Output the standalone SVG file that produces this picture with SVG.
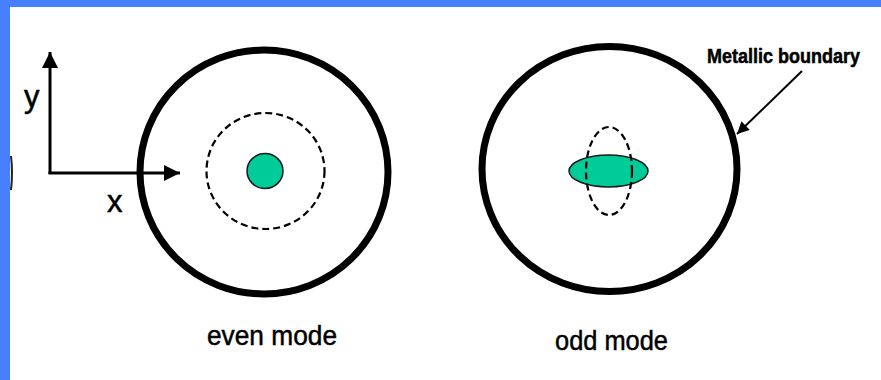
<svg xmlns="http://www.w3.org/2000/svg" width="881" height="380" viewBox="0 0 881 380">
<defs>
<style>
.boundary{fill:none;stroke:#000;stroke-width:7}
.dash{fill:none;stroke:#000;stroke-width:2.2;stroke-dasharray:7 4}
.core{fill:#00CC99;stroke:#1a1a1a;stroke-width:1.5}
.axis{stroke:#000;stroke-width:3;fill:none}
.lbl{font-family:"Liberation Sans",Arial,sans-serif;fill:#000;stroke:#000;stroke-width:0.5}
</style>
<marker id="ah" viewBox="0 0 10 10" refX="10" refY="5" markerWidth="16" markerHeight="16" markerUnits="userSpaceOnUse" orient="auto">
<path d="M0,0 L10,5 L0,10 Z" fill="#000"/>
</marker>
<marker id="ah2" viewBox="0 0 10 10" refX="10" refY="5" markerWidth="16" markerHeight="12" markerUnits="userSpaceOnUse" orient="auto">
<path d="M0,0 L10,5 L0,10 Z" fill="#000"/>
</marker>
</defs>
<rect x="0" y="0" width="881" height="380" fill="#fff"/>
<rect x="0" y="0" width="881" height="7" fill="#4680FF"/>
<rect x="0" y="0" width="10" height="380" fill="#4680FF"/>
<path d="M11,156 Q13,173 11,190" stroke="#222" stroke-width="2" fill="none"/>

<g id="axes">
<path class="axis" d="M50,174 L50,52" marker-end="url(#ah)"/>
<path class="axis" d="M48.5,173 L180,173" marker-end="url(#ah)"/>
<text class="lbl" x="24" y="107" font-size="31">y</text>
<text class="lbl" x="107" y="212" font-size="31">x</text>
</g>

<g id="even-mode">
<ellipse class="boundary" cx="264" cy="172" rx="124" ry="122"/>
<ellipse class="dash" cx="265.5" cy="171" rx="59" ry="58"/>
<ellipse class="core" cx="265" cy="171" rx="18" ry="17.5"/>
<text class="lbl" x="207" y="345" font-size="28" textLength="130" lengthAdjust="spacingAndGlyphs">even mode</text>
</g>

<g id="odd-mode">
<ellipse class="boundary" cx="609.5" cy="169" rx="127.5" ry="122.5"/>
<ellipse class="core" cx="608.5" cy="171" rx="39.5" ry="16"/>
<ellipse class="dash" cx="609" cy="171" rx="23" ry="44"/>
<text class="lbl" x="555" y="350" font-size="28" textLength="113" lengthAdjust="spacingAndGlyphs">odd mode</text>
</g>

<g id="metallic-label">
<text class="lbl" x="707" y="63" font-size="20" font-weight="bold" stroke-width="0.2" textLength="153" lengthAdjust="spacingAndGlyphs">Metallic boundary</text>
</g>

<g id="connectors">
<path d="M802,71 L737,134" stroke="#000" stroke-width="2" fill="none" marker-end="url(#ah2)"/>
</g>
</svg>
